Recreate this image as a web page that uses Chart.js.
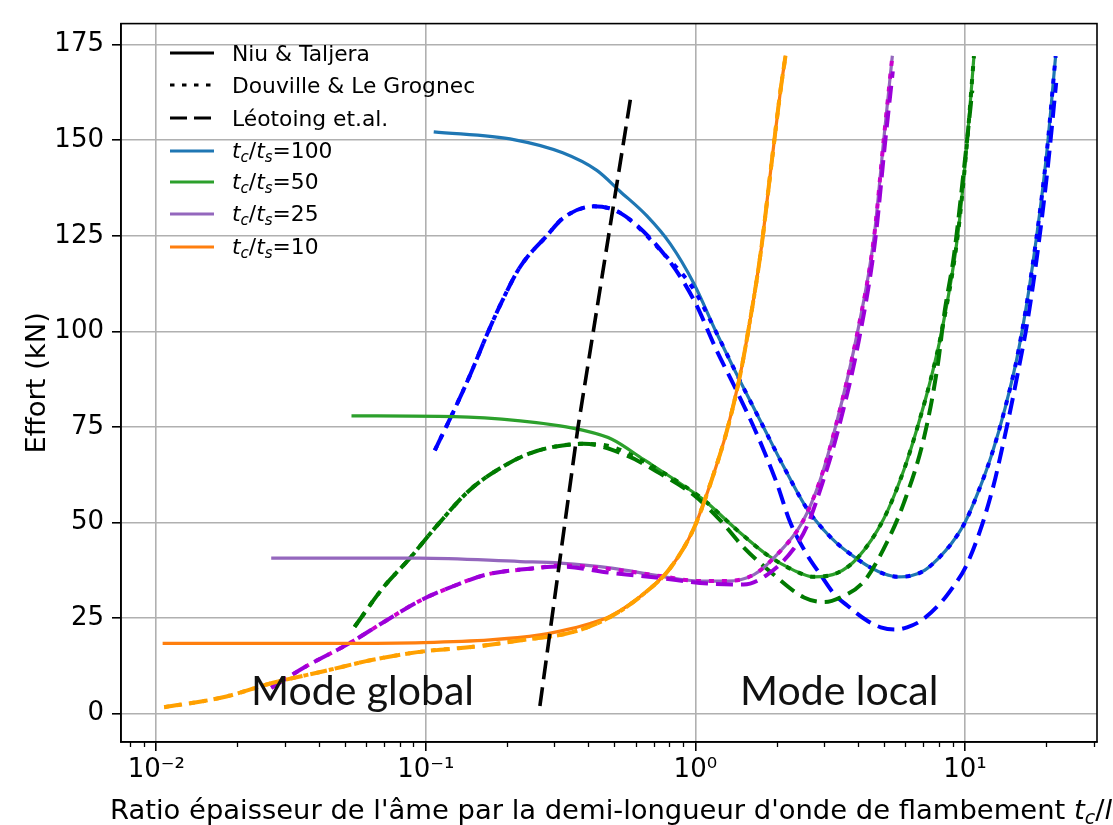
<!DOCTYPE html>
<html>
<head>
<meta charset="utf-8">
<script src="https://cdn.jsdelivr.net/npm/chart.js@4.4.0/dist/chart.umd.min.js"></script>
<style>
  html, body { margin: 0; padding: 0; background: #fff; }
  #wrap { width: 1113px; height: 825px; }
</style>
</head>
<body>
<div id="wrap"><canvas id="chart"></canvas></div>
<script>
// axis ticks
var xTickVals = [0.01, 0.1, 1, 10];
var xTickLabels = ['10\u207B\u00B2', '10\u207B\u00B9', '10\u2070', '10\u00B9'];
var yTickVals = [0, 25, 50, 75, 100, 125, 150, 175];

// t_c/t_s = 100
var niuX100 = [0.107, 0.214, 0.322, 0.431, 0.526, 0.661, 0.807, 0.986, 1.2, 1.43, 1.745, 2.13, 2.6, 3.0, 3.36, 3.98, 4.47, 5.01, 5.62, 6.31, 7.08, 7.94, 8.91, 10, 11.2, 12.6, 14.1, 15.8, 17.8, 20, 21.7];
var niuY100 = [152.2, 150.1, 146.7, 142.1, 136.6, 130.2, 122.9, 112.6, 99.5, 88.5, 76.5, 64.5, 53.5, 48, 44.5, 40.5, 38.2, 36.6, 35.8, 36.1, 37.5, 40.5, 44.5, 50, 58, 68, 80, 95, 117, 145, 172];
var leoX100 = [0.108, 0.127, 0.146, 0.168, 0.188, 0.224, 0.281, 0.324, 0.419, 0.526, 0.763, 0.986, 1.2, 1.41, 1.67, 2.0, 2.25, 2.6, 2.91, 3.3, 3.66, 4.3, 4.87, 5.5, 6.1, 6.9, 8.13, 9.0, 10, 11.4, 12.8, 13.6, 14.8, 15.7, 17.1, 18.7, 20.3, 21.8];
var leoY100 = [68.9, 79.2, 88.6, 98.9, 106.6, 116.9, 125, 129.7, 132.7, 131, 120.3, 108.3, 95, 85, 74, 60.5, 50, 41.5, 36.4, 31, 28.3, 24.5, 22.6, 22, 22.6, 24.4, 29, 33, 38, 48, 60, 68, 80, 89, 103, 122, 143, 165];
var douX100 = [0.108, 0.127, 0.146, 0.168, 0.188, 0.224, 0.281, 0.324, 0.419, 0.526, 0.763, 0.986, 1.2, 1.43, 1.745, 2.13, 2.6, 3.0, 3.36, 3.98, 4.47, 5.01, 5.62, 6.31, 7.08, 7.94, 8.91, 10, 11.2, 12.6, 14.1, 15.8, 17.8, 20, 21.7];
var douY100 = [68.9, 79.2, 88.6, 98.9, 106.6, 116.9, 125, 129.7, 132.7, 131, 120.3, 111, 99.5, 88.5, 76.5, 64.5, 53.5, 48, 44.5, 40.5, 38.2, 36.6, 35.8, 36.1, 37.5, 40.5, 44.5, 50, 58, 68, 80, 95, 117, 145, 172];

// t_c/t_s = 50
var niuX50 = [0.053, 0.127, 0.224, 0.315, 0.374, 0.49, 0.642, 0.855, 1.07, 1.43, 1.85, 2.32, 2.75, 3.36, 3.99, 5.0, 5.94, 6.67, 7.5, 8.2, 9.4, 10.2, 10.8];
var niuY50 = [77.9, 77.7, 76.6, 75.3, 74.3, 71.8, 66.5, 60.8, 56, 48, 41.5, 37.5, 35.8, 36.8, 40.7, 51, 63.8, 75, 88, 100, 125, 150, 172];
var leoX50 = [0.0544, 0.0695, 0.0873, 0.11, 0.146, 0.194, 0.243, 0.298, 0.385, 0.557, 0.741, 0.986, 1.24, 1.51, 1.95, 2.53, 3.0, 3.45, 4.23, 5.0, 5.94, 7.06, 7.92, 8.4, 9.11, 9.9, 10.65];
var leoY50 = [22.7, 33, 40.7, 49.2, 58.6, 64.7, 68.1, 69.8, 70.6, 67.5, 62.8, 57.2, 50.5, 43.5, 36.4, 30.4, 29.2, 30.4, 34.7, 43.2, 55.2, 72.4, 91, 105, 120, 142, 163];
var douX50 = [0.0544, 0.0695, 0.0873, 0.11, 0.146, 0.194, 0.243, 0.298, 0.385, 0.49, 0.642, 0.855, 1.07, 1.43, 1.85, 2.32, 2.75, 3.36, 3.99, 5.0, 5.94, 6.67, 7.5, 8.2, 9.4, 10.2, 10.8];
var douY50 = [22.7, 33, 40.7, 49.2, 58.6, 64.7, 68.1, 69.8, 70.6, 69.8, 66, 60.8, 56, 48, 41.5, 37.5, 35.8, 36.8, 40.7, 51, 63.8, 75, 88, 100, 125, 150, 172];

// t_c/t_s = 25
var niuX25 = [0.0267, 0.0947, 0.224, 0.315, 0.49, 0.741, 1.04, 1.31, 1.65, 2.0, 2.49, 2.9, 3.31, 4.0, 4.6, 5.0, 5.38];
var niuY25 = [40.7, 40.7, 39.8, 39.4, 38.1, 36, 34.7, 34.7, 36.4, 41.5, 50, 61, 75, 100, 124.6, 150.3, 172.1];
var leoX25 = [0.0267, 0.036, 0.052, 0.0714, 0.0947, 0.127, 0.168, 0.258, 0.315, 0.49, 0.741, 1.04, 1.51, 1.85, 2.32, 2.6, 2.95, 3.35, 4.05, 4.65, 5.05, 5.4];
var leoY25 = [6.8, 12.4, 18.4, 24.4, 29.5, 33.4, 36.4, 38.1, 38.5, 36.8, 35.5, 34.2, 33.8, 36.4, 43.2, 49.2, 60, 73, 98, 124, 149, 168];
var douX25 = [0.0267, 0.036, 0.052, 0.0714, 0.0947, 0.127, 0.168, 0.258, 0.315, 0.49, 0.741, 1.04, 1.31, 1.65, 2.0, 2.49, 2.9, 3.31, 4.0, 4.6, 5.0, 5.38];
var douY25 = [6.8, 12.4, 18.4, 24.4, 29.5, 33.4, 36.4, 38.1, 38.8, 37.8, 36, 34.7, 34.7, 36.4, 41.5, 50, 61, 75, 100, 124.6, 150.3, 172.1];

// t_c/t_s = 10
var niuX10 = [0.01056, 0.0478, 0.098, 0.173, 0.265, 0.315, 0.407, 0.483, 0.642, 0.807, 0.986, 1.14, 1.31, 1.47, 1.57, 1.745, 1.9, 2.07, 2.16];
var niuY10 = [18.4, 18.4, 18.6, 19.3, 20.6, 21.6, 23.6, 25.5, 31.3, 38.1, 48.4, 60.4, 74.1, 89, 100, 120.3, 141.7, 163.1, 172.1];
var leoX10 = [0.0107, 0.0177, 0.0271, 0.0418, 0.0636, 0.098, 0.15, 0.23, 0.353, 0.483, 0.642, 0.807, 0.986, 1.14, 1.31, 1.47, 1.57, 1.745, 1.9, 2.07, 2.16];
var leoY10 = [1.7, 4.3, 8.1, 11.1, 14.1, 16.3, 17.5, 19.3, 21.4, 25.3, 31.3, 38.1, 48.4, 60.4, 74.1, 89, 100, 120.3, 141.7, 163.1, 172.1];

// frontière global / local
var limX = [0.265, 0.367, 0.578];
var limY = [2, 75, 162];

function pts(xs, ys) {
  return xs.map(function (x, i) { return { x: x, y: ys[i] }; });
}

var DASH = [17, 8];
var DOT = [5, 8];

var series = [
  { d: pts(niuX100, niuY100), c: '#1f77b4', w: 3.2, dash: [] },
  { d: pts(douX100, douY100), c: '#0000ff', w: 4, dash: DOT },
  { d: pts(leoX100, leoY100), c: '#0000ff', w: 4, dash: DASH },
  { d: pts(niuX50, niuY50), c: '#2ca02c', w: 3.2, dash: [] },
  { d: pts(douX50, douY50), c: '#007a00', w: 4, dash: DOT },
  { d: pts(leoX50, leoY50), c: '#007a00', w: 4, dash: DASH },
  { d: pts(niuX25, niuY25), c: '#9467bd', w: 3.2, dash: [] },
  { d: pts(douX25, douY25), c: '#cc00cc', w: 4, dash: DOT },
  { d: pts(leoX25, leoY25), c: '#9b00d9', w: 4, dash: DASH },
  { d: pts(niuX10, niuY10), c: '#ff7f0e', w: 3.2, dash: [] },
  { d: pts(leoX10, leoY10), c: '#ffa000', w: 4, dash: DOT },
  { d: pts(leoX10, leoY10), c: '#ffa000', w: 4, dash: DASH },
  { d: pts(limX, limY), c: '#000000', w: 3.6, dash: [19, 8], straight: true }
];

var datasets = series.map(function (s, i) {
  return {
    data: s.d,
    showLine: true,
    borderColor: s.c,
    borderWidth: s.w,
    borderDash: s.dash,
    borderCapStyle: 'butt',
    pointRadius: 0,
    fill: false,
    cubicInterpolationMode: s.straight ? 'default' : 'monotone',
    tension: 0,
    order: -i
  };
});

var legendRows = [
  { y: 53, color: '#000', dash: [], w: 3.2, text: 'Niu & Taljera' },
  { y: 85, color: '#000', dash: [4.5, 7.5], w: 3.2, text: 'Douville & Le Grognec' },
  { y: 118, color: '#000', dash: [17, 7], w: 3.2, text: 'L\u00E9otoing et.al.' },
  { y: 151, color: '#1f77b4', dash: [], w: 3.2, ratio: '100' },
  { y: 182, color: '#2ca02c', dash: [], w: 3.2, ratio: '50' },
  { y: 214, color: '#9467bd', dash: [], w: 3.2, ratio: '25' },
  { y: 247, color: '#ff7f0e', dash: [], w: 3.2, ratio: '10' }
];

function drawRuns(ctx, x, y, runs) {
  runs.forEach(function (r) {
    ctx.font = r.f;
    ctx.fillText(r.t, x, y + (r.dy || 0));
    x += ctx.measureText(r.t).width;
  });
  return x;
}

function ratioRuns(size, val) {
  var it = 'italic ' + size + 'px "DejaVu Sans"';
  var sub = 'italic ' + Math.round(size * 0.7) + 'px "DejaVu Sans"';
  var rm = size + 'px "DejaVu Sans"';
  var ds = Math.round(size * 0.2);
  return [
    { t: 't', f: it }, { t: 'c', f: sub, dy: ds }, { t: '/', f: rm },
    { t: 't', f: it }, { t: 's', f: sub, dy: ds }, { t: '=' + val, f: rm }
  ];
}

var decor = {
  id: 'decor',
  afterDraw: function (chart) {
    var ctx = chart.ctx, a = chart.chartArea;
    var xs = chart.scales.x;
    ctx.save();
    // frame
    ctx.strokeStyle = '#000';
    ctx.lineWidth = 1.6;
    ctx.strokeRect(a.left, a.top, a.right - a.left, a.bottom - a.top);
    // minor ticks
    ctx.lineWidth = 1.3;
    for (var e = -3; e <= 1; e++) {
      for (var m = 2; m <= 9; m++) {
        var v = m * Math.pow(10, e);
        if (v < xs.min || v > xs.max) continue;
        var px = Math.round(xs.getPixelForValue(v)) + 0.5;
        ctx.beginPath();
        ctx.moveTo(px, a.bottom);
        ctx.lineTo(px, a.bottom + 5);
        ctx.stroke();
      }
    }
    // legend
    ctx.fillStyle = '#000';
    ctx.textBaseline = 'alphabetic';
    legendRows.forEach(function (r) {
      ctx.beginPath();
      ctx.strokeStyle = r.color;
      ctx.lineWidth = r.w;
      ctx.setLineDash(r.dash);
      ctx.moveTo(170, r.y);
      ctx.lineTo(214, r.y);
      ctx.stroke();
      ctx.setLineDash([]);
      if (r.text) {
        drawRuns(ctx, 232, r.y + 8, [{ t: r.text, f: '21.8px "DejaVu Sans"' }]);
      } else {
        drawRuns(ctx, 232, r.y + 7, ratioRuns(21.8, r.ratio));
      }
    });
    // annotations
    ctx.fillStyle = '#111';
    ctx.font = '41px Lato';
    ctx.fillText('Mode global', 251, 705);
    ctx.fillText('Mode local', 740, 705);
    // axis titles
    ctx.fillStyle = '#000';
    var xRuns = [{ t: 'Ratio \u00E9paisseur de l\'\u00E2me par la demi-longueur d\'onde de flambement ', f: '27.4px "DejaVu Sans"' },
      { t: 't', f: 'italic 27.4px "DejaVu Sans"' }, { t: 'c', f: 'italic 19px "DejaVu Sans"', dy: 5 },
      { t: '/', f: '27.4px "DejaVu Sans"' }, { t: 'l', f: 'italic 27.4px "DejaVu Sans"' }];
    drawRuns(ctx, 110, 819, xRuns);
    ctx.translate(45, (a.top + a.bottom) / 2);
    ctx.rotate(-Math.PI / 2);
    ctx.font = '27.4px "DejaVu Sans"';
    ctx.textAlign = 'center';
    ctx.fillText('Effort (kN)', 0, 0);
    ctx.restore();
  }
};

var tickFont = { family: 'DejaVu Sans', size: 26 };

new Chart(document.getElementById('chart'), {
  type: 'scatter',
  data: { datasets: datasets },
  options: {
    responsive: true,
    maintainAspectRatio: false,
    animation: false,
    layout: { padding: { top: 13, right: 16, left: 0, bottom: 0 } },
    plugins: { legend: { display: false }, tooltip: { enabled: false } },
    scales: {
      x: {
        type: 'logarithmic',
        min: 0.0074,
        max: 30.9,
        afterBuildTicks: function (s) { s.ticks = xTickVals.map(function (v) { return { value: v }; }); },
        afterFit: function (s) { s.height = 83; },
        ticks: {
          autoSkip: false, maxRotation: 0, padding: 4, color: '#000', font: tickFont,
          callback: function (v, i) { return xTickLabels[i]; }
        },
        grid: { color: '#b0b0b0', lineWidth: 1.6, tickColor: '#000', tickLength: 9, tickWidth: 1.6 },
        border: { display: true, color: '#000', width: 1.6 }
      },
      y: {
        type: 'linear',
        min: -7.4,
        max: 180.5,
        afterBuildTicks: function (s) { s.ticks = yTickVals.map(function (v) { return { value: v }; }); },
        afterFit: function (s) { s.width = 121; },
        ticks: { autoSkip: false, padding: 8, color: '#000', font: tickFont },
        grid: { color: '#b0b0b0', lineWidth: 1.6, tickColor: '#000', tickLength: 9, tickWidth: 1.6 },
        border: { display: true, color: '#000', width: 1.6 }
      }
    }
  },
  plugins: [decor]
});
</script>
</body>
</html>
